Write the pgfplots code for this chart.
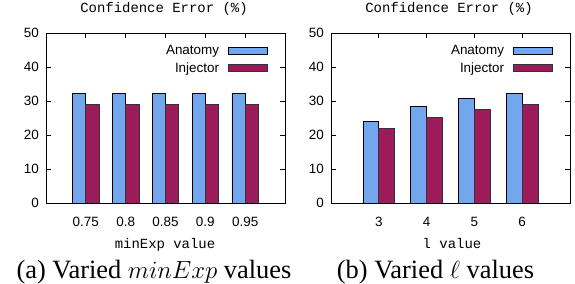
\documentclass[border=0pt]{standalone}
\usepackage{pgfplots}
\pgfplotsset{compat=1.18}
\usepackage{fontspec}
\setmainfont{Liberation Serif}
\newfontfamily\sansf{Liberation Sans}
\newfontfamily\monof{Liberation Mono}
\definecolor{anat}{RGB}{114,167,240}
\definecolor{inj}{RGB}{156,27,90}
\pgfplotsset{
  mybars/.style={
    scale only axis, width=239bp, height=170bp,
    ymin=0, ymax=50, ytick={0,10,20,30,40,50},
    tick align=inside, major tick length=5bp,
    axis line style={line width=1pt}, every tick/.style={black, line width=0.8pt},
    /pgf/number format/assume math mode=true,
    ticklabel style={font=\sansf\fontsize{13.5}{15}\selectfont},
    yticklabel style={anchor=east, inner sep=0pt, xshift=-7bp},
    xticklabel style={anchor=base, inner sep=0pt, yshift=-23bp},
    legend style={draw=none, fill=none, inner sep=0pt, at={(1,1)}, anchor=north east, xshift=-17bp, yshift=-10bp,
      font=\sansf\fontsize{13.5}{15}\selectfont, row sep=2.5bp, column sep=7bp,
      cells={anchor=east}},
    legend plot pos=right,
  },
  abar/.style={ybar, bar width=0.3333, bar shift=-0.16667, fill=anat, draw=black, line width=0.7pt,
    legend image code/.code={\draw[fill=anat, draw=black, line width=0.7pt] (0bp,-3.7bp) rectangle (39bp,3.7bp);}},
  ibar/.style={ybar, bar width=0.3333, bar shift=0.16667, fill=inj, draw=black!80, line width=0.7pt,
    legend image code/.code={\draw[fill=inj, draw=black!80, line width=0.7pt] (0bp,-3.7bp) rectangle (39bp,3.7bp);}},
}
\begin{document}
\begin{tikzpicture}
\path[use as bounding box] (0,0) rectangle (575bp,284bp);
\begin{axis}[mybars, at={(46bp,81bp)}, anchor=south west,
  xmin=-1, xmax=5, xtick={0,1,2,3,4}, xticklabels={0.75,0.8,0.85,0.9,0.95}]
\addplot[abar] coordinates {(0,32.3) (1,32.3) (2,32.3) (3,32.3) (4,32.3)};
\addlegendentry{Anatomy}
\addplot[ibar] coordinates {(0,29.1) (1,29.1) (2,29.1) (3,29.1) (4,29.0)};
\addlegendentry{Injector}
\end{axis}
\begin{axis}[mybars, at={(331bp,81bp)}, anchor=south west,
  xmin=-1, xmax=4, xtick={0,1,2,3}, xticklabels={3,4,5,6}]
\addplot[abar] coordinates {(0,24.0) (1,28.4) (2,30.8) (3,32.3)};
\addlegendentry{Anatomy}
\addplot[ibar] coordinates {(0,21.9) (1,25.2) (2,27.4) (3,29.1)};
\addlegendentry{Injector}
\end{axis}
\node[anchor=base, inner sep=0pt, font=\monof\fontsize{14}{16}\selectfont] at (164bp,271bp) {Confidence Error (\%)};
\node[anchor=base, inner sep=0pt, font=\monof\fontsize{14}{16}\selectfont] at (449bp,271bp) {Confidence Error (\%)};
\node[anchor=base, inner sep=0pt, font=\monof\fontsize{14}{16}\selectfont] at (165bp,36bp) {minExp value};
\node[anchor=base, inner sep=0pt, font=\monof\fontsize{14}{16}\selectfont] at (452bp,36bp) {l value};
\node[anchor=base, inner sep=0pt, font=\fontsize{26.5}{30}\selectfont] at (154bp,6bp) {(a) Varied $minExp$ values};
\node[anchor=base, inner sep=0pt, font=\fontsize{26.5}{30}\selectfont] at (435.5bp,6bp) {(b) Varied $\ell$ values};
\end{tikzpicture}
\end{document}
